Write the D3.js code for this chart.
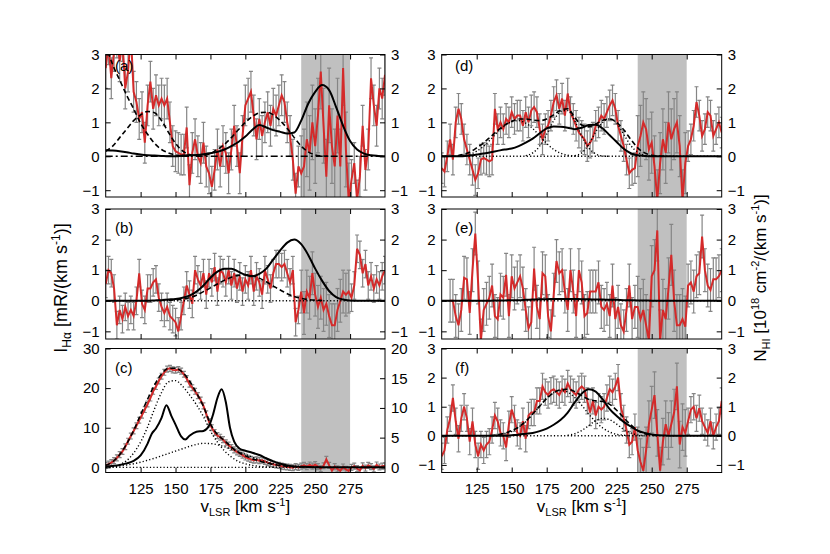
<!DOCTYPE html>
<meta charset="utf-8">
<head>
<style>
body { margin: 0; background: #fff; }
svg { font-family: "Liberation Sans", Arial, sans-serif; }
.axis text { font-size: 15px; fill: #000; }
.axis line { stroke: #000; }
.frame { fill: none; stroke: #000; stroke-width: 1; }
.band { fill: #c0c0c0; }
.err { stroke: #858585; stroke-width: 1.2; }
.ha { fill: none; stroke: #d42a2a; stroke-width: 2; }
.hi { fill: none; stroke: #000; stroke-width: 2; }
.dash { fill: none; stroke: #000; stroke-width: 1.6; stroke-dasharray: 5,3; }
.dot { fill: none; stroke: #000; stroke-width: 1.4; stroke-dasharray: 1.2,2.2; }
.dashdot { fill: none; stroke: #000; stroke-width: 1.5; stroke-dasharray: 7,3,2,3; }
.plabel { font-size: 15px; }
.title { font-size: 17px; }
</style>
</head>
<body>
<svg width="830" height="554"></svg>
<script src="https://cdn.jsdelivr.net/npm/d3@7"></script>
<script>

// velocity grids (km/s)
var haV = d3.range(100, 301, 2);   // H-alpha channels
var fitStep = 5;                   // HI spectra and fit curves
var xTicks = [125, 150, 175, 200, 225, 250, 275];
var windowV = [240, 275];          // grey velocity window

// ---- panel (a)
var haA = [2.6, 3.3, 2.3, 3.1, 3.5, 2.8, 3.4, 2.0, 2.5, 3.6,
  1.9, 1.6, 1.1, 1.3, 0.4, 1.5, 2.2, 1.4, 1.8, 1.5,
  1.7, 1.5, 1.7, 1.0, 0.3, 0.15, 0.1, 0.05, 0.05, 0.85,
  -0.85, 0.1, 0.5, 0.0, -0.2, 0.4, -0.3, -0.5, -0.9, -0.4,
  0.2, -0.3, 0.3, 0.1, -0.5, 0.2, 0.9, 0.3, -0.5, 0.6,
  1.5, 1.7, 1.9, 1.2, 0.5, 1.1, 0.6, 1.0, 1.3, 0.9,
  1.4, 1.2, 1.5, 1.8, 1.6, 1.0, 0.6, -0.1, -1.1, -0.3,
  -0.5, -0.3, 0.5, 0.1, 1.0, 0.3, 1.2, 2.5, 0.9, -0.6,
  1.5, 0.3, -0.3, 1.2, -0.3, 2.6, 0.2, -1.3, -0.7, -0.2,
  -1.3, -0.6, 0.9, -0.4, 0.2, 2.3, 1.5, 0.9, 2.0, 1.7,
  2.4];
var errA = [0.6, 1.1];   // outside / inside the window
var hiA = [0.18, 0.17, 0.15, 0.12, 0.08, 0.05, 0.03, 0.02, 0.01, 0.0,
  0.0, 0.02, 0.03, 0.04, 0.06, 0.09, 0.13, 0.2, 0.3, 0.42,
  0.58, 0.78, 0.92, 0.85, 0.77, 0.72, 0.67, 0.7, 1.05, 1.55,
  1.9, 2.1, 1.95, 1.45, 0.9, 0.45, 0.2, 0.08, 0.03, 0.01,
  0.0];
var fitA1 = [3.3, 2.7, 2.25, 1.8, 1.4, 0.97, 0.65, 0.38, 0.2, 0.1, 0.04, 0.01, 0];          // from 100
var fitA2 = [0.15, 0.3, 0.55, 0.8, 1.05, 1.22, 1.32, 1.28, 1.05, 0.7, 0.38, 0.16, 0.05, 0.01, 0]; // from 100
var fitA3 = [0, 0.02, 0.08, 0.2, 0.35, 0.55, 0.78, 1.0, 1.17, 1.28,
  1.3, 1.22, 1.05, 0.82, 0.55, 0.3, 0.13, 0.04, 0.01, 0];                                  // from 165

// ---- panel (b)
var haB = [0.55, 1.0, 0.9, 0.4, -0.8, -0.3, -0.6, -0.2, -0.5, -0.3,
  -0.5, 0.0, 0.9, -0.1, -0.3, 0.4, 0.4, 0.6, 0.7, 0.1,
  -0.2, -0.4, -0.2, -0.5, -0.6, -0.7, -1.0, -0.5, 0.0, 0.5,
  0.2, -0.1, 1.0, 0.7, 0.5, 0.9, 0.2, 0.9, 0.6, 1.1,
  0.3, 1.0, 0.9, 0.6, 1.0, 0.5, 0.9, 0.4, 0.8, 0.3,
  0.7, 0.5, 1.0, 0.3, 0.8, 0.6, 0.2, 1.0, 0.7, 0.4,
  0.9, 1.2, 1.2, 1.1, 1.2, 0.9, 0.6, 1.0, -0.7, -0.3,
  0.3, -0.4, 0.3, 0.1, 0.9, 0.2, -0.2, 0.1, -0.3, -0.1,
  -0.5, -0.8, -0.8, -0.3, 0.0, 0.3, 0.2, 0.3, 0.1, 0.5,
  1.7, 1.5, 0.9, 1.2, 0.5, 0.8, 0.4, 0.7, 0.5, 0.8,
  1.0];
var errB = [0.45, 0.7];
var hiB = [0, 0, 0, 0, 0, 0, 0, 0.01, 0.02, 0.04,
  0.06, 0.1, 0.17, 0.3, 0.5, 0.75, 0.95, 1.05, 1.05, 0.95,
  0.85, 0.8, 0.88, 1.05, 1.35, 1.65, 1.9, 2.0, 1.85, 1.5,
  1.05, 0.65, 0.32, 0.12, 0.04, 0.01, 0, 0, 0, 0,
  0];
var fitB = [0.01, 0.03, 0.06, 0.1, 0.18, 0.3, 0.42, 0.55, 0.67, 0.77,
  0.83, 0.85, 0.82, 0.74, 0.62, 0.48, 0.35, 0.23, 0.14, 0.08,
  0.04, 0.02, 0.01];                                                                       // from 145

// ---- panel (c)  (H-alpha on left axis, HI on right axis)
var haC = [0.5, 0.8, 1.2, 1.7, 2.4, 3.2, 4.0, 5.2, 6.6, 7.9,
  9.2, 10.5, 11.9, 13.2, 14.6, 16.0, 17.5, 19.2, 20.4, 21.8,
  23.0, 24.0, 24.8, 25.0, 24.6, 24.5, 24.7, 24.3, 23.5, 22.4,
  21.0, 20.1, 19.2, 18.1, 17.0, 15.5, 13.5, 11.5, 10.0, 8.8,
  8.0, 7.6, 7.0, 6.2, 5.6, 5.0, 4.4, 3.9, 3.5, 3.1,
  2.6, 2.3, 2.0, 1.8, 1.9, 1.7, 1.8, 1.5, 1.2, 1.0,
  0.8, 0.6, 0.5, 0.3, 0.2, 0.1, 0.0, -0.1, 0.2, 0.0,
  0.3, 0.5, 0.2, 0.6, 0.3, 0.7, 0.2, -0.3, 0.4, 2.0,
  0.5, -0.8, 0.2, -0.4, -0.9, 0.1, -0.5, -0.9, 0.0, 0.3,
  -0.3, -0.8, 0.4, -0.2, 0.5, 0.2, -0.4, 0.6, 0.1, 0.3,
  0.4];
var errC = [0.75, 0.75];
var hiCv = [100, 110, 115, 120, 125, 130, 133, 136, 140, 143.5,
  147, 150, 154, 157, 160, 165, 170, 174, 177, 180,
  183, 186, 189, 192, 196, 200, 205, 210, 215, 220,
  225, 230, 240, 250, 300];
var hiC = [0.13, 0.4, 0.67, 1.07, 2.0, 4.0, 5.67, 6.53, 8.33, 10.47,
  8.67, 7.2, 5.2, 4.67, 5.33, 6.0, 6.13, 7.0, 9.0, 11.67,
  13.13, 11.0, 6.67, 4.33, 3.13, 2.8, 2.47, 2.07, 1.53, 1.0,
  0.6, 0.33, 0.1, 0.03, 0];
var fitC = [0.5, 1.4, 3.2, 5.9, 9.3, 13.3, 17.2, 20.8, 23.6, 25.0,
  25.0, 24.0, 21.8, 18.8, 15.4, 11.0, 8.3, 6.8, 5.1, 3.8,
  2.9, 2.2, 1.6, 1.1, 0.75, 0.45, 0.28, 0.15, 0.08, 0.04,
  0.02, 0];                                                                                // from 100
var compC1 = [0.05, 0.2, 0.7, 1.7, 3.6, 6.4, 10.2, 14.8, 18.9, 21.6,
  21.9, 20.5, 18.3, 15.8, 12.8, 9.2, 6.4, 4.2, 2.6, 1.5,
  0.9, 0.5, 0.25, 0.1, 0.03, 0];                                                           // from 100
var compC2 = [0.1, 0.2, 0.35, 0.6, 0.9, 1.3, 1.8, 2.3, 2.9, 3.5,
  4.1, 4.7, 5.3, 5.8, 6.05, 6.0, 5.7, 5.2, 4.6, 4.0,
  3.3, 2.6, 1.9, 1.4, 0.95, 0.6, 0.35, 0.2, 0.1, 0.05,
  0.02, 0];                                                                                // from 100

// ---- panel (d)
var haD = [-0.35, -0.45, 0.0, 0.5, -0.1, 1.0, 1.4, 1.1, 0.5, 0.2,
  -0.1, -0.4, -0.7, -0.5, -0.1, -0.05, -0.1, -0.15, -0.1, 1.4,
  0.8, 1.0, 0.8, 1.1, 1.0, 1.3, 1.1, 1.2, 1.2, 0.9,
  1.3, 1.0, 1.35, 1.45, 1.3, 0.8, 0.5, 0.8, 0.9, 1.2,
  1.6, 1.8, 1.4, 1.7, 1.2, 1.85, 1.3, 1.1, 0.9, 0.7,
  0.6, 0.5, 0.3, 0.4, 0.55, 0.9, 1.0, 1.2, 1.1, 1.3,
  1.5, 1.65, 1.4, 0.9, 0.6, 0.3, -0.1, -0.5, -0.4, -0.35,
  0.3, 0.6, 1.0, 0.8, 0.2, 0.4, -0.3, -1.3, -0.2, 0.5,
  0.1, 1.0, 0.5, 0.8, 1.0, 0.3, -1.3, -0.2, 0.3, 0.5,
  0.9, 1.6, 1.2, 0.6, 0.8, 1.3, 1.2, 0.6, 0.8, 1.0,
  0.7];
var errD = [0.45, 0.9];
var hiD = [0, 0, 0, 0, 0.02, 0.05, 0.08, 0.12, 0.16, 0.2,
  0.23, 0.3, 0.4, 0.52, 0.68, 0.82, 0.88, 0.87, 0.84, 0.8,
  0.84, 0.92, 0.93, 0.82, 0.62, 0.42, 0.22, 0.09, 0.03, 0.01,
  0, 0, 0, 0, 0, 0, 0, 0, 0, 0,
  0];
var fitD = [0, 0, 0.01, 0.05, 0.12, 0.25, 0.4, 0.58, 0.76, 0.92,
  1.03, 1.1, 1.1, 1.07, 1.05, 1.1, 1.22, 1.36, 1.4, 1.15,
  0.92, 0.87, 0.95, 1.06, 1.1, 1.0, 0.78, 0.5, 0.25, 0.1,
  0.03, 0.01, 0];                                                                          // from 100
var compD1 = [0.02, 0.06, 0.15, 0.3, 0.5, 0.72, 0.9, 1.02, 1.05, 0.98,
  0.82, 0.6, 0.38, 0.2, 0.09, 0.03, 0.01, 0];                                              // from 115
var compD2 = [0.02, 0.1, 0.3, 0.65, 1.05, 1.32, 1.35, 1.05, 0.6, 0.25, 0.07, 0.01, 0];    // from 160
var compD3 = [0.02, 0.1, 0.35, 0.72, 1.0, 1.1, 0.98, 0.65, 0.32, 0.12, 0.03, 0];          // from 195

// ---- panel (e)
var haE = [null, null, null, 0.0, 0.0, -0.5, -0.8, -0.3, 0.75, 0.7,
  -0.4, 1.0, 2.2, 0.6, -1.3, -0.3, -0.1, 0.1, 0.5, -0.5,
  -0.6, 0.2, 0.1, 0.85, -0.5, 0.8, 0.4, 0.6, 0.8, 0.4,
  -0.3, -0.9, -0.7, 1.05, -0.2, -0.6, 0.9, 0.8, -0.5, -1.0,
  0.2, 1.3, 0.9, 1.0, 0.3, -0.3, 1.0, 0.3, -0.5, 1.0,
  0.6, -0.5, -0.4, 0.3, 0.3, 0.3, 0.6, -0.2, -0.3, -0.1,
  -0.5, 0.5, -0.6, -0.2, -0.8, -1.0, -0.3, 0.5, -0.6, -0.2,
  -0.2, -0.6, -0.3, -0.8, -1.3, 0.8, 1.0, 2.3, -1.3, -0.3,
  -0.6, 0.4, 1.5, 0.0, -0.8, -0.8, -0.6, -0.85, 0.5, 0.6,
  0.3, 0.8, 0.9, 2.1, 1.0, 0.5, 0.35, 0.7, 0.7, 0.8,
  1.0];
var errE = [0.7, 1.0];
var hiE = [0, 0, 0, 0, 0, 0, 0, 0, 0.01, 0.01,
  0.02, 0.02, 0.03, 0.04, 0.05, 0.05, 0.06, 0.06, 0.06, 0.06,
  0.05, 0.05, 0.04, 0.04, 0.03, 0.03, 0.02, 0.02, 0.01, 0.01,
  0, 0, 0, 0, 0, 0, 0, 0, 0, 0,
  0];

// ---- panel (f)
var haF = [-0.7, -0.5, 0.2, 0.6, 1.3, 0.5, -0.1, 0.6, 1.0, 0.6,
  -0.2, 0.5, -0.3, -0.7, -0.3, -0.5, -0.3, -0.2, 0.2, 0.7,
  0.5, 0.1, 0.0, -0.4, 0.4, 0.9, 0.6, 0.1, 0.0, 0.5,
  -0.1, 0.7, 0.8, 0.8, 1.2, 1.2, 1.7, 1.5, 1.4, 1.55,
  1.6, 1.5, 1.4, 1.6, 1.5, 1.8, 1.6, 1.5, 1.4, 1.6,
  1.7, 1.6, 1.2, 0.8, 1.2, 0.7, 1.0, 0.9, 1.0, 1.3,
  1.6, 1.5, 1.7, 2.0, 1.0, 0.6, 0.2, -0.3, -0.2, 0.3,
  -0.5, -0.9, -1.2, -0.5, 0.4, 0.9, 1.4, 0.1, -1.2, -0.2,
  0.4, 0.0, 0.4, 0.8, 1.7, -0.3, 0.3, 0.1, 0.5, 0.9,
  1.0, 0.6, 0.95, 0.5, 0.3, 0.1, 0.5, 0.0, 0.3, 0.5,
  1.2];
var errF = [0.45, 0.8];
var hiF = [0, 0, 0, 0, 0, 0, 0, 0, 0, 0,
  0.02, 0.04, 0.07, 0.1, 0.16, 0.25, 0.38, 0.55, 0.8, 1.15,
  1.45, 1.6, 1.52, 1.25, 0.92, 0.68, 0.48, 0.32, 0.18, 0.1,
  0.05, 0.02, 0.01, 0, 0, 0, 0, 0, 0, 0,
  0];
var fitF = [0.01, 0.04, 0.09, 0.18, 0.3, 0.5, 0.75, 1.02, 1.28, 1.48,
  1.58, 1.6, 1.52, 1.38, 1.25, 1.2, 1.18, 1.08, 0.88, 0.62,
  0.38, 0.18, 0.07, 0.02, 0];                                                              // from 135
var compF1 = [0.03, 0.08, 0.15, 0.3, 0.48, 0.75, 1.02, 1.3, 1.48, 1.56,
  1.5, 1.32, 1.05, 0.75, 0.48, 0.27, 0.13, 0.05, 0.02, 0];                                 // from 140
var compF2 = [0.02, 0.07, 0.18, 0.35, 0.52, 0.6, 0.55, 0.4, 0.22, 0.1, 0.03, 0];          // from 190

// ---- layout
var svg = d3.select("svg");
var cols = [{x0: 105.7, x1: 385, lx: 115}, {x0: 441.7, x1: 721.7, lx: 455}];
var rows = [{y0: 54.5, y1: 197, ly: 16.5}, {y0: 209, y1: 339, ly: 24}, {y0: 348.5, y1: 472.5, ly: 24}];

function series(v0, vals) {
  return vals.map(function(d, i) { return [v0 + i * fitStep, d]; });
}

var panels = [
  {name: "(a)", col: 0, row: 0, lo: -1.2, hi: 3, ha: haA, err: errA, hi1: series(100, hiA),
   dashed: [series(100, fitA1), series(100, fitA2), series(165, fitA3)], dotted: [], zero: "dashdot"},
  {name: "(b)", col: 0, row: 1, lo: -1.25, hi: 3, ha: haB, err: errB, hi1: series(100, hiB),
   dashed: [series(145, fitB)], dotted: [], zero: "dot"},
  {name: "(c)", col: 0, row: 2, lo: -1.3, hi: 30, ha: haC, err: errC, hiScale: 1.5,
   hi1: hiCv.map(function(v, i) { return [v, hiC[i]]; }),
   dashed: [series(100, fitC)], dotted: [series(100, compC1), series(100, compC2)], zero: "dot",
   yTicks: [0, 10, 20, 30], yTicksR: [0, 5, 10, 15, 20]},
  {name: "(d)", col: 1, row: 0, lo: -1.2, hi: 3, ha: haD, err: errD, hi1: series(100, hiD),
   dashed: [series(100, fitD)], dotted: [series(115, compD1), series(160, compD2), series(195, compD3)], zero: "dot"},
  {name: "(e)", col: 1, row: 1, lo: -1.25, hi: 3, ha: haE, err: errE, hi1: series(100, hiE),
   dashed: [], dotted: [], zero: "dot"},
  {name: "(f)", col: 1, row: 2, lo: -1.26, hi: 3, ha: haF, err: errF, hi1: series(100, hiF),
   dashed: [series(135, fitF)], dotted: [series(140, compF1), series(190, compF2)], zero: "dot"}
];

panels.forEach(function(p, k) {
  var c = cols[p.col], r = rows[p.row];
  var x = d3.scaleLinear().domain([100, 300]).range([c.x0, c.x1]);
  var y = d3.scaleLinear().domain([p.lo, p.hi]).range([r.y1, r.y0]);
  var s = p.hiScale || 1;
  var yR = d3.scaleLinear().domain([p.lo / s, p.hi / s]).range([r.y1, r.y0]);

  svg.append("clipPath").attr("id", "clip" + k)
    .append("rect").attr("x", c.x0).attr("y", r.y0)
    .attr("width", c.x1 - c.x0).attr("height", r.y1 - r.y0);

  var g = svg.append("g").attr("clip-path", "url(#clip" + k + ")");

  g.append("rect").attr("class", "band")
    .attr("x", x(windowV[0])).attr("width", x(windowV[1]) - x(windowV[0]))
    .attr("y", r.y0).attr("height", r.y1 - r.y0);

  var pts = haV.map(function(v, i) { return [v, p.ha[i]]; })
    .filter(function(d) { return d[1] != null; });

  function errOf(v) { return (v >= windowV[0] && v <= windowV[1]) ? p.err[1] : p.err[0]; }

  var eb = g.selectAll(".eb").data(pts).enter().append("g").attr("class", "err");
  eb.append("line")
    .attr("x1", function(d) { return x(d[0]); }).attr("x2", function(d) { return x(d[0]); })
    .attr("y1", function(d) { return y(d[1] - errOf(d[0])); })
    .attr("y2", function(d) { return y(d[1] + errOf(d[0])); });
  [-1, 1].forEach(function(sg) {
    eb.append("line")
      .attr("x1", function(d) { return x(d[0]) - 2; }).attr("x2", function(d) { return x(d[0]) + 2; })
      .attr("y1", function(d) { return y(d[1] + sg * errOf(d[0])); })
      .attr("y2", function(d) { return y(d[1] + sg * errOf(d[0])); });
  });

  g.append("path").attr("class", "ha").datum(pts)
    .attr("d", d3.line().x(function(d) { return x(d[0]); }).y(function(d) { return y(d[1]); }));

  g.append("line").attr("class", p.zero === "dashdot" ? "dashdot" : "dot")
    .attr("x1", c.x0).attr("x2", c.x1).attr("y1", y(0)).attr("y2", y(0));

  var smooth = d3.line().curve(d3.curveMonotoneX)
    .x(function(d) { return x(d[0]); }).y(function(d) { return y(d[1]); });

  p.dotted.forEach(function(sr) { g.append("path").attr("class", "dot").datum(sr).attr("d", smooth); });
  p.dashed.forEach(function(sr) { g.append("path").attr("class", "dash").datum(sr).attr("d", smooth); });

  g.append("path").attr("class", "hi").datum(p.hi1)
    .attr("d", d3.line().curve(d3.curveMonotoneX)
      .x(function(d) { return x(d[0]); }).y(function(d) { return yR(d[1]); }));

  // axes, inward ticks
  var bottom = p.row === 2;
  svg.append("g").attr("class", "axis").attr("transform", "translate(0," + r.y1 + ")")
    .call(d3.axisBottom(x).tickValues(xTicks).tickSize(-5).tickPadding(11)
      .tickFormat(bottom ? d3.format("d") : function() { return ""; }))
    .call(function(a) { a.select(".domain").remove(); });
  svg.append("g").attr("class", "axis").attr("transform", "translate(0," + r.y0 + ")")
    .call(d3.axisTop(x).tickValues(xTicks).tickSize(-5).tickFormat(function() { return ""; }))
    .call(function(a) { a.select(".domain").remove(); });
  svg.append("g").attr("class", "axis").attr("transform", "translate(" + c.x0 + ",0)")
    .call(d3.axisLeft(y).tickValues(p.yTicks || [-1, 0, 1, 2, 3]).tickSize(-5).tickPadding(6).tickFormat(d3.format("d")))
    .call(function(a) { a.select(".domain").remove(); });
  svg.append("g").attr("class", "axis").attr("transform", "translate(" + c.x1 + ",0)")
    .call(d3.axisRight(yR).tickValues(p.yTicksR || [-1, 0, 1, 2, 3]).tickSize(-5).tickPadding(6).tickFormat(d3.format("d")))
    .call(function(a) { a.select(".domain").remove(); });

  svg.append("rect").attr("class", "frame")
    .attr("x", c.x0).attr("y", r.y0).attr("width", c.x1 - c.x0).attr("height", r.y1 - r.y0);

  svg.append("text").attr("class", "plabel")
    .attr("x", c.lx).attr("y", r.y0 + r.ly).text(p.name);
});

// axis titles with sub/superscripts
function richText(sel, parts) {
  parts.forEach(function(pt) {
    sel.append("tspan")
      .attr("dy", pt.dy || 0)
      .style("font-size", pt.fs ? pt.fs + "px" : null)
      .text(pt.t);
  });
}

[0, 1].forEach(function(ci) {
  var c = cols[ci];
  var t = svg.append("text").attr("class", "title")
    .attr("x", (c.x0 + c.x1) / 2).attr("y", 512).attr("text-anchor", "middle");
  richText(t, [{t: "v"}, {t: "LSR", fs: 11, dy: 4}, {t: " [km s", dy: -4},
    {t: "-1", fs: 11, dy: -6}, {t: "]", dy: 6}]);
});

var yl = svg.append("text").attr("class", "title").style("font-size", "18px")
  .attr("transform", "translate(67,288) rotate(-90)").attr("text-anchor", "middle");
richText(yl, [{t: "I"}, {t: "H\u03b1", fs: 12, dy: 4}, {t: " [mR/(km s", dy: -4},
  {t: "-1", fs: 12, dy: -7}, {t: ")]", dy: 7}]);

var yr = svg.append("text").attr("class", "title")
  .attr("transform", "translate(766,278) rotate(-90)").attr("text-anchor", "middle");
richText(yr, [{t: "N"}, {t: "HI", fs: 11, dy: 4}, {t: " [10", dy: -4},
  {t: "18", fs: 11, dy: -7}, {t: " cm", dy: 7}, {t: "-2", fs: 11, dy: -7},
  {t: "/(km s", dy: 7}, {t: "-1", fs: 11, dy: -7}, {t: ")]", dy: 7}]);

</script>
</body>
</html>
